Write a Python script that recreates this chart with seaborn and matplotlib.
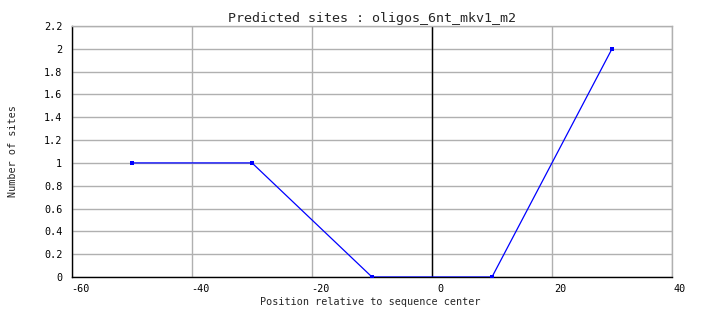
import matplotlib
matplotlib.use("Agg")
import matplotlib.pyplot as plt
import matplotlib.transforms as mtransforms
import seaborn as sns
import pandas as pd

positions = [-50, -30, -10, 10, 30]
sites = [1, 1, 0, 0, 2]
x_ticks = [-60, -40, -20, 0, 20, 40]
y_ticks = [0, 0.2, 0.4, 0.6, 0.8, 1, 1.2, 1.4, 1.6, 1.8, 2, 2.2]
y_labels = ["0", "0.2", "0.4", "0.6", "0.8", "1", "1.2", "1.4", "1.6", "1.8", "2", "2.2"]
title = "Predicted sites : oligos_6nt_mkv1_m2"

sns.set_style("white")
plt.rcParams['font.family'] = ['DejaVu Sans Mono', 'DejaVu Sans']

df = pd.DataFrame({"pos": positions, "sites": sites})

fig = plt.figure(figsize=(7.04, 3.28), dpi=100)
ax = fig.add_axes([72/704, (328-277)/328, 600/704, (277-26)/328])

sns.lineplot(data=df, x="pos", y="sites", ax=ax, color="#0000ff", linewidth=0.9,
             marker="s", markersize=3, markeredgewidth=0, zorder=3)

ax.set_xlim(-60, 40)
ax.set_ylim(0, 2.2)
ax.set_xticks(x_ticks)
ax.set_xticklabels([str(t) for t in x_ticks])
ax.set_yticks(y_ticks)
ax.set_yticklabels(y_labels)
ax.grid(True, color="#b0b0b0", linewidth=1)
ax.axvline(0, color="black", linewidth=1, zorder=2)
ax.tick_params(axis="x", length=0, labelsize=7.3, pad=5, colors="black")
ax.tick_params(axis="y", length=0, labelsize=7.3, pad=7, colors="black")

offset = mtransforms.ScaledTranslation(8/100, 0, fig.dpi_scale_trans)
for lbl in ax.get_xticklabels():
    lbl.set_transform(lbl.get_transform() + offset)

for side in ["top", "right"]:
    ax.spines[side].set_color("#b0b0b0")
    ax.spines[side].set_linewidth(1)
for side in ["left", "bottom"]:
    ax.spines[side].set_color("black")
    ax.spines[side].set_linewidth(1)

ax.set_xlabel("Position relative to sequence center", fontsize=7.3)
ax.xaxis.set_label_coords((370 - 72) / 600, -(297 - 277) / 251)
ax.set_ylabel("Number of sites", fontsize=7.3)
ax.yaxis.set_label_coords(-(72 - 18) / 600, 0.5)
ax.set_title(title, fontsize=9.6, pad=3)

fig.savefig("out.png", dpi=100)
